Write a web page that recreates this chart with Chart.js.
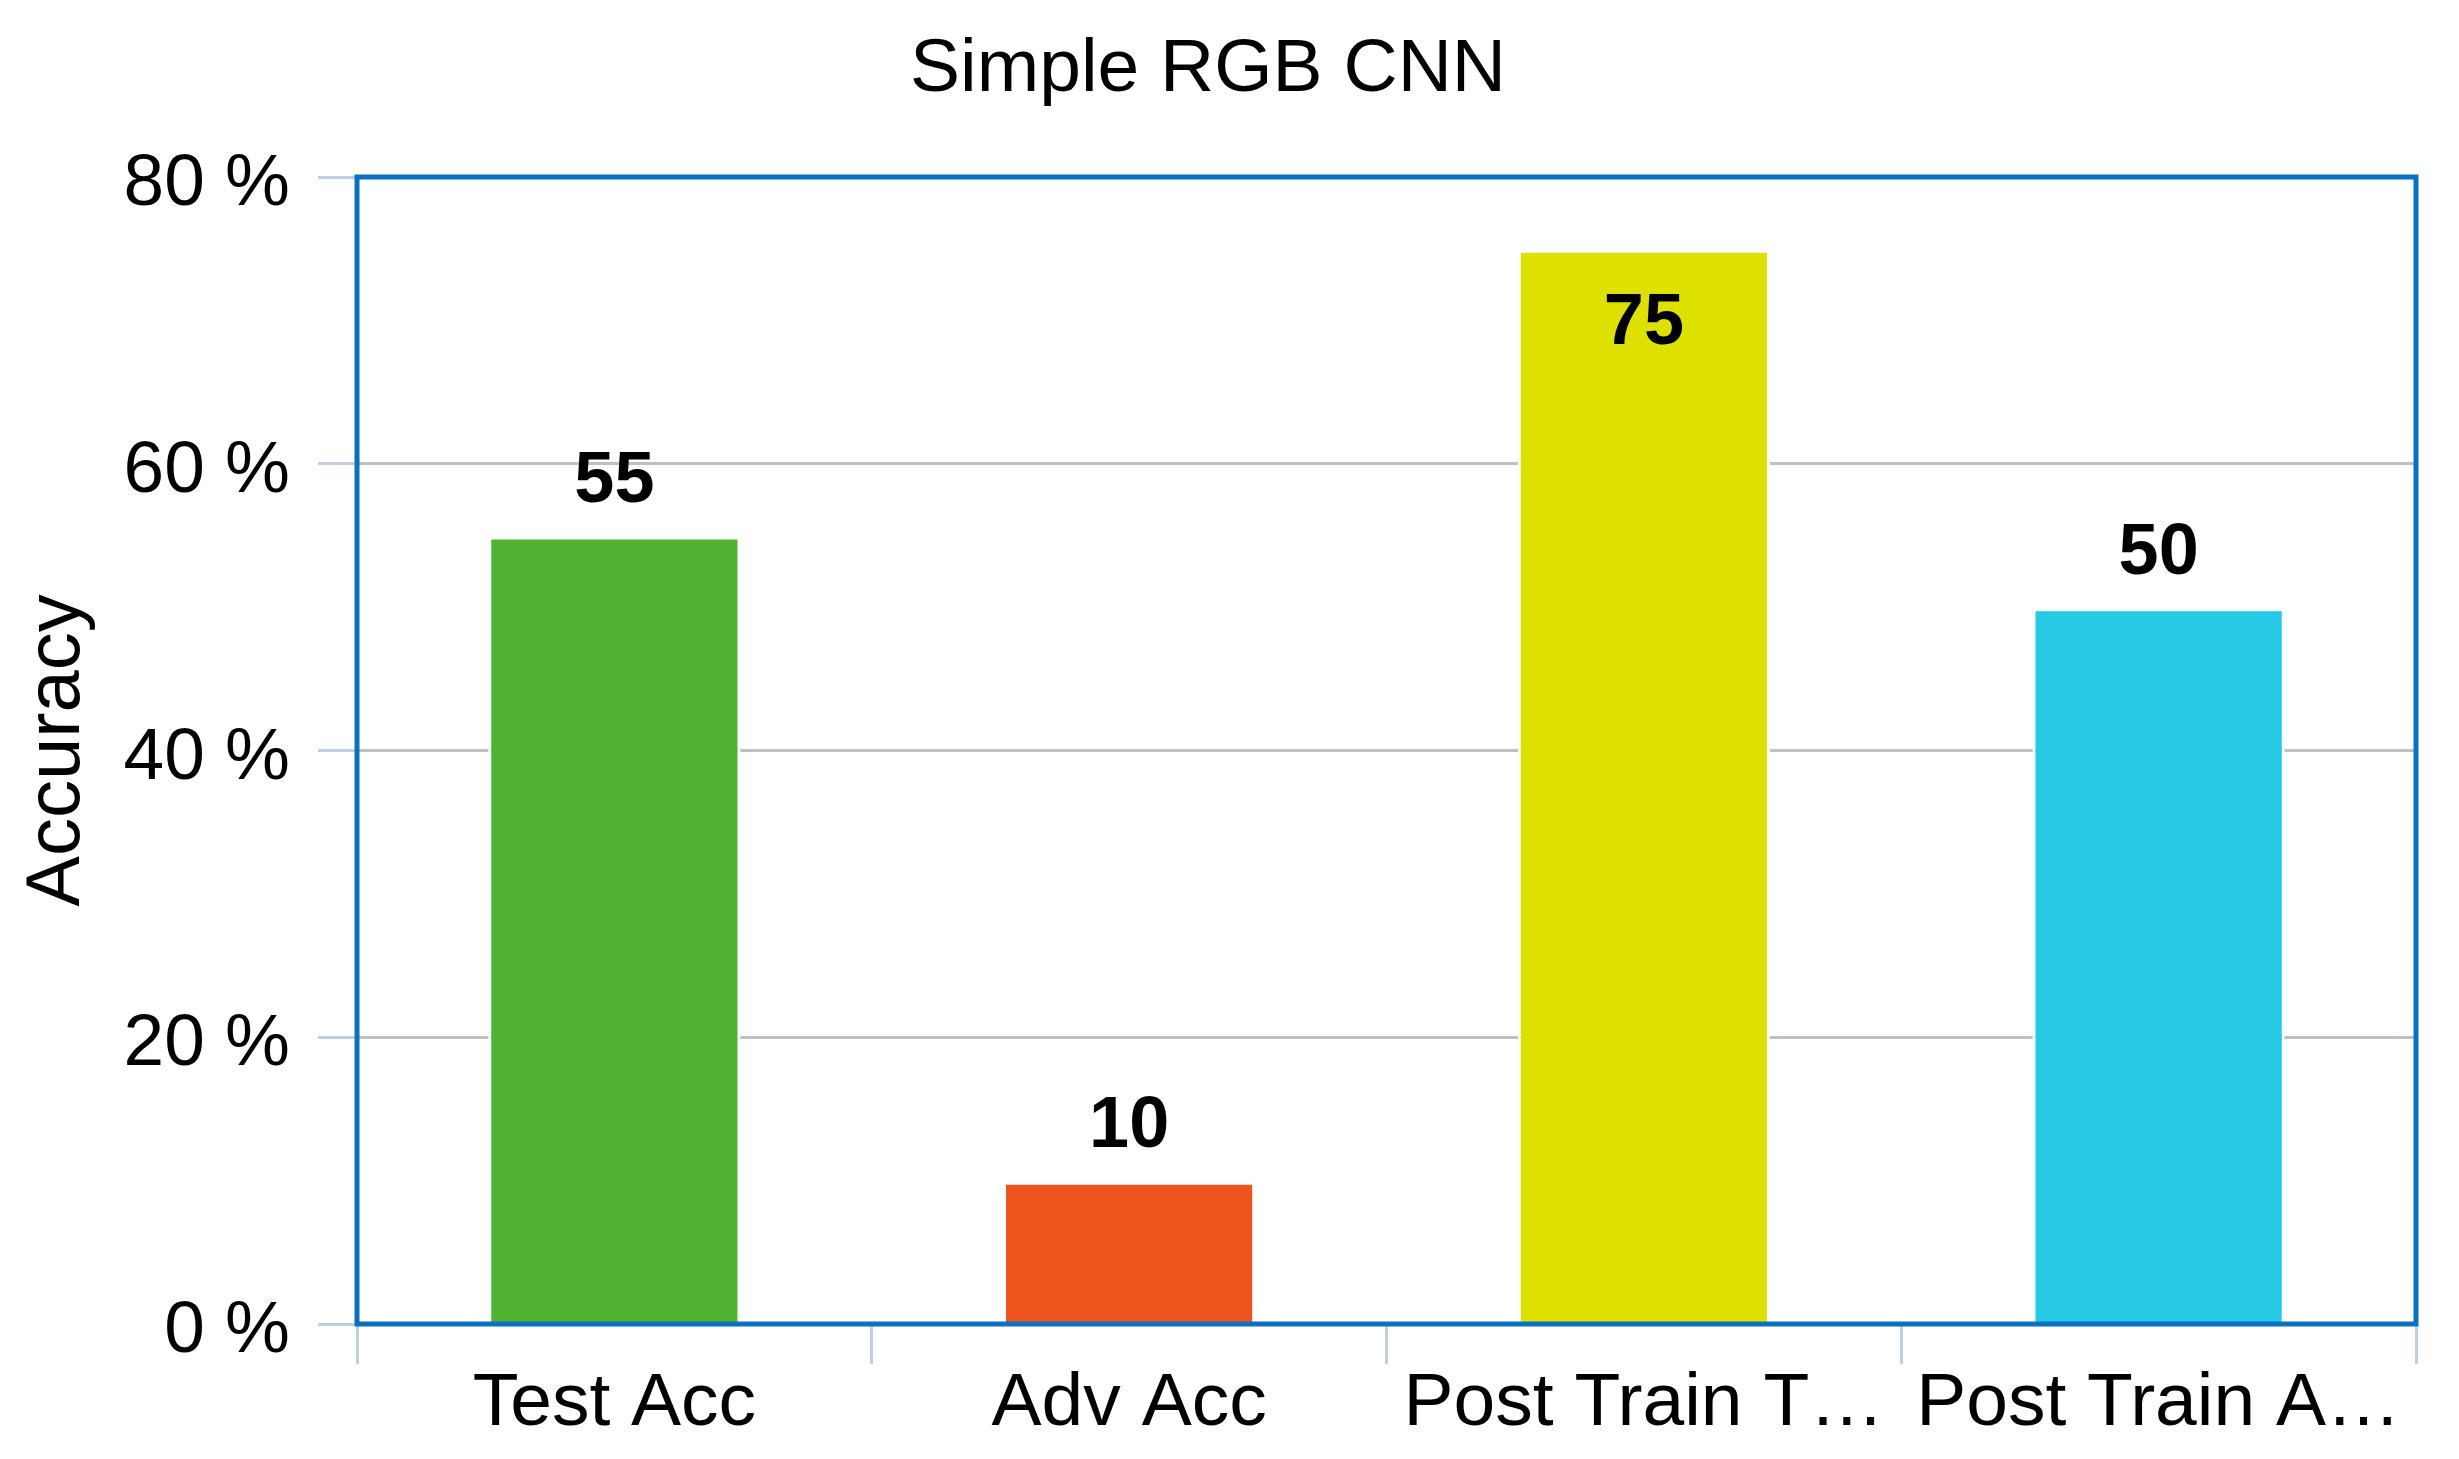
<!DOCTYPE html>
<html>
<head>
<meta charset="utf-8">
<title>Simple RGB CNN</title>
<script src="https://cdn.jsdelivr.net/npm/chart.js@4.4.1/dist/chart.umd.min.js"></script>
<style>
  html, body { margin: 0; padding: 0; background: #fff; }
  #wrap { width: 2459px; height: 1459px; }
</style>
</head>
<body>
<div id="wrap"><canvas id="accChart"></canvas></div>
<script>
const categories = ["Test Acc", "Adv Acc", "Post Train T…", "Post Train A…"];
const accuracy = [55, 10, 75, 50];
const barColors = ["#52b333", "#ec561e", "#dee000", "#26c9e3"];
const yTicks = [0, 20, 40, 60, 80];

const FONT = "'Liberation Sans', Arial, sans-serif";

// blue frame around the plot area
const framePlugin = {
  id: "frame",
  afterDatasetsDraw(chart) {
    const { ctx, chartArea: a } = chart;
    ctx.save();
    ctx.strokeStyle = "#0a70c2";
    ctx.lineWidth = 5;
    ctx.strokeRect(a.left, a.top, a.right - a.left, a.bottom - a.top);
    ctx.restore();
  },
};

// value labels above bars (inside when no room)
const valueLabels = {
  id: "valueLabels",
  afterDraw(chart) {
    const { ctx, chartArea } = chart;
    const meta = chart.getDatasetMeta(0);
    ctx.save();
    ctx.font = "bold 72px " + FONT;
    ctx.fillStyle = "#000";
    ctx.textAlign = "center";
    ctx.textBaseline = "middle";
    meta.data.forEach((bar, i) => {
      let y = bar.y - 53;
      if (y - 30 < chartArea.top) y = bar.y + 75;
      ctx.fillText(String(accuracy[i]), bar.x, y);
    });
    ctx.restore();
  },
};

new Chart(document.getElementById("accChart"), {
  type: "bar",
  data: {
    labels: categories,
    datasets: [
      {
        data: accuracy,
        backgroundColor: barColors,
        borderColor: "#ffffff",
        borderWidth: { left: 3, right: 3, top: 4, bottom: 0 },
        barPercentage: 0.49,
        categoryPercentage: 1,
      },
    ],
  },
  options: {
    responsive: true,
    maintainAspectRatio: false,
    animation: false,
    layout: { padding: { left: 0, right: 43, top: 0, bottom: 0 } },
    plugins: {
      legend: { display: false },
      tooltip: { enabled: false },
      title: {
        display: true,
        text: "Simple RGB CNN",
        color: "#000",
        font: { family: FONT, size: 75, weight: "normal" },
        padding: { top: 25, bottom: 62 },
      },
    },
    scales: {
      x: {
        grid: {
          display: true,
          drawOnChartArea: false,
          drawTicks: true,
          tickLength: 40,
          tickColor: "#c3cfdf",
          lineWidth: 3,
          offset: true,
        },
        border: { display: true, color: "#c3cfdf", width: 3 },
        ticks: {
          color: "#000",
          font: { family: FONT, size: 75 },
          padding: -5,
          maxRotation: 0,
          autoSkip: false,
        },
        afterFit(scale) {
          scale.height = 135;
        },
      },
      y: {
        min: 0,
        max: 80,
        afterBuildTicks(scale) {
          scale.ticks = yTicks.map((v) => ({ value: v }));
        },
        grid: {
          color: "#c0c0c0",
          lineWidth: 3,
          tickLength: 39,
          tickColor: "#c3cfdf",
        },
        border: { display: false },
        ticks: {
          color: "#000",
          // small line height + leading empty line nudges labels a bit below the gridline
          font: { family: FONT, size: 73, lineHeight: 0.22 },
          padding: 28,
          callback: (v) => ["", v + " %"],
        },
        title: {
          display: true,
          text: "Accuracy",
          color: "#000",
          font: { family: FONT, size: 76 },
          padding: { top: 12, bottom: 0 },
        },
        afterFit(scale) {
          scale.width = 357;
        },
      },
    },
  },
  plugins: [framePlugin, valueLabels],
});
</script>
</body>
</html>
